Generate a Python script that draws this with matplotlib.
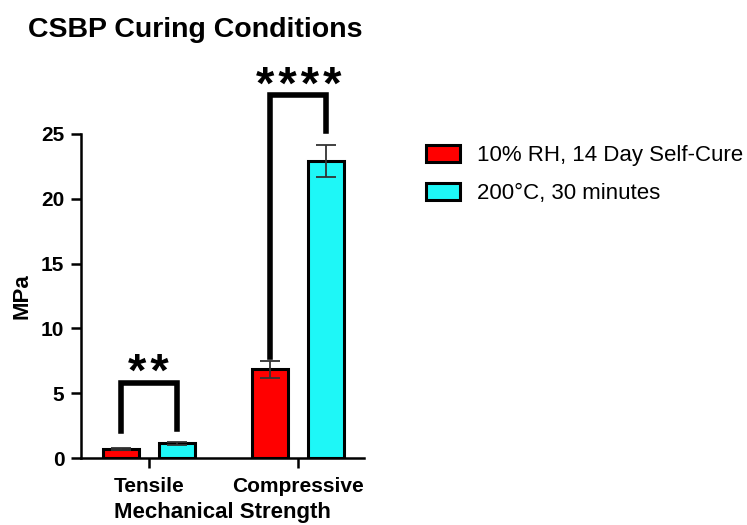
import numpy as np
import matplotlib.pyplot as plt

plt.rcParams['font.family'] = ['Liberation Sans', 'DejaVu Sans']

categories = ['Tensile', 'Compressive']
series_names = ['10% RH, 14 Day Self-Cure', '200\u00b0C, 30 minutes']
series_colors = ['#ff0000', '#1ef7f7']
means = [[0.7, 6.85], [1.15, 22.9]]
errors = [[0.05, 0.65], [0.12, 1.25]]

# significance brackets: (category, left leg bottom, right leg bottom, top, label)
brackets = [
    (0, 2.1, 2.2, 5.8, '**'),
    (1, 7.8, 25.2, 28.0, '****'),
]

fig = plt.figure(figsize=(7.47, 5.25), dpi=100)
ax = fig.add_axes([0.1084, 0.1276, 0.379, 0.6172])

x = np.arange(len(categories))
width = 0.24
offset = 0.187

for i, name in enumerate(series_names):
    pos = x + (i * 2 - 1) * offset
    ax.bar(pos, means[i], width, color=series_colors[i], edgecolor='black',
           linewidth=2.2, label=name, zorder=2)
    ax.errorbar(pos, means[i], yerr=errors[i], fmt='none', ecolor='#333333',
                elinewidth=1.3, capsize=7, capthick=1.3, zorder=3)

for cat, lb, rb, top, label in brackets:
    xl, xr = cat - offset, cat + offset
    ax.plot([xl, xl, xr, xr], [lb, top, top, rb], color='black', lw=4,
            solid_joinstyle='miter', clip_on=False, zorder=4)
    ax.text(cat, top - 1.05, '\u200a'.join(label), ha='center', va='bottom',
            fontsize=34, fontweight='bold', clip_on=False)

ax.set_xlim(-0.453, 1.44)
ax.set_ylim(0, 25)
ax.set_yticks([0, 5, 10, 15, 20, 25])
ax.set_xticks(x)
ax.set_xticklabels(categories)
for s in ['top', 'right']:
    ax.spines[s].set_visible(False)
for s in ['left', 'bottom']:
    ax.spines[s].set_linewidth(1.8)
ax.tick_params(axis='both', width=1.8, length=7, labelsize=15)
ax.tick_params(axis='x', pad=7)
ax.tick_params(axis='y', pad=5)
for lbl in ax.get_xticklabels() + ax.get_yticklabels():
    lbl.set_fontweight('bold')

ax.set_ylabel('MPa', fontsize=16, fontweight='bold', labelpad=6)
ax.set_xlabel('Mechanical Strength', fontsize=16, fontweight='bold', labelpad=4)
fig.text(0.0375, 0.9295, 'CSBP Curing Conditions', fontsize=20.5,
         fontweight='bold', ha='left', va='baseline')

leg = fig.legend(*ax.get_legend_handles_labels(), loc='upper left',
                 bbox_to_anchor=(426 / 747, 1 - 145 / 525), frameon=False,
                 fontsize=16, handlelength=1.53, handleheight=0.8,
                 handletextpad=0.77, labelspacing=0.75, borderpad=0,
                 borderaxespad=0)

fig.savefig('out.png', dpi=100)
